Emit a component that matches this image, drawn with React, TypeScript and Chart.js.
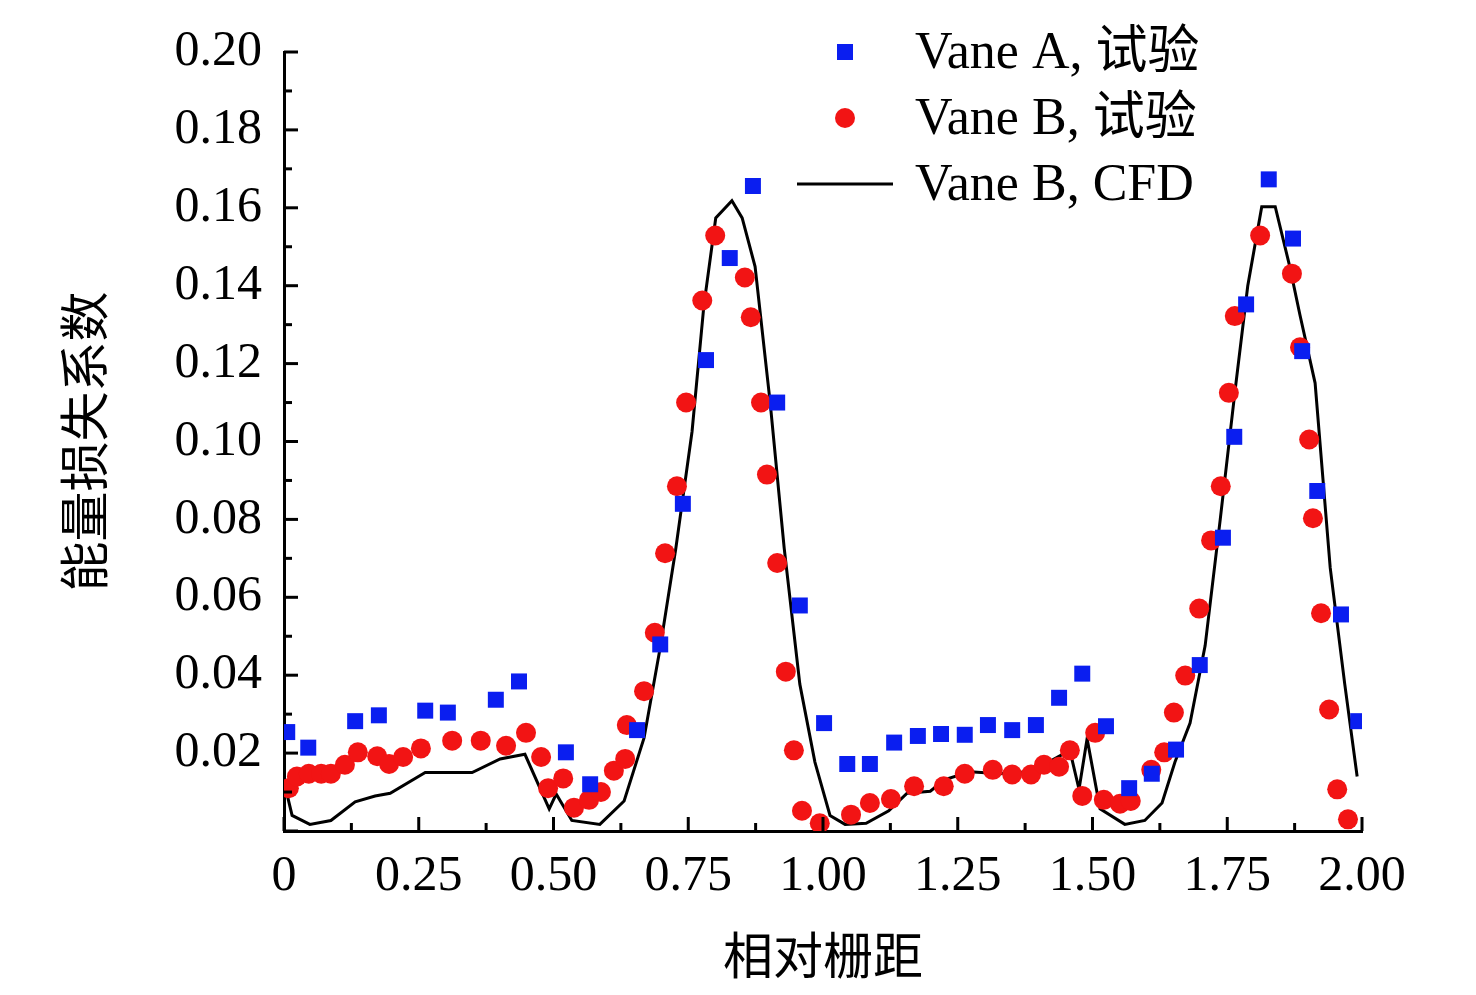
import React, { useEffect, useRef } from "react";
import { Chart, registerables } from "chart.js";
Chart.register(...registerables);

const vaneAX = [0.006,0.045,0.132,0.176,0.262,0.304,0.393,0.436,0.523,0.568,0.655,0.698,0.740,0.783,0.827,0.870,0.915,0.957,1.002,1.045,1.087,1.132,1.176,1.219,1.263,1.306,1.351,1.395,1.438,1.481,1.525,1.568,1.610,1.655,1.699,1.742,1.763,1.785,1.827,1.872,1.889,1.917,1.961,1.993];
const vaneAY = [0.0254,0.0214,0.0282,0.0297,0.0309,0.0304,0.0337,0.0384,0.0202,0.0120,0.0259,0.0479,0.0840,0.1209,0.1471,0.1656,0.1100,0.0579,0.0277,0.0172,0.0172,0.0227,0.0244,0.0249,0.0247,0.0272,0.0259,0.0272,0.0342,0.0404,0.0269,0.0110,0.0147,0.0209,0.0426,0.0753,0.1012,0.1352,0.1673,0.1521,0.1232,0.0873,0.0556,0.0282];
const vaneBX = [0.009,0.024,0.046,0.069,0.087,0.113,0.137,0.173,0.195,0.221,0.254,0.312,0.365,0.412,0.449,0.477,0.490,0.518,0.538,0.566,0.588,0.612,0.633,0.636,0.668,0.688,0.707,0.729,0.746,0.776,0.800,0.855,0.866,0.885,0.896,0.915,0.931,0.946,0.961,0.994,1.052,1.087,1.126,1.169,1.224,1.263,1.315,1.351,1.386,1.410,1.438,1.458,1.481,1.505,1.521,1.551,1.571,1.609,1.633,1.651,1.672,1.698,1.720,1.738,1.753,1.764,1.811,1.870,1.885,1.902,1.909,1.924,1.939,1.954,1.974];
const vaneBY = [0.011,0.014,0.0147,0.0147,0.0147,0.0170,0.0202,0.0192,0.0172,0.0190,0.0212,0.0232,0.0232,0.0219,0.0252,0.0190,0.011,0.0135,0.0060,0.0080,0.0100,0.0155,0.0185,0.0272,0.0359,0.0509,0.0713,0.0885,0.1100,0.1362,0.1529,0.1421,0.1319,0.1100,0.0915,0.0688,0.0409,0.0207,0.0052,0.0020,0.0042,0.0072,0.0082,0.0115,0.0115,0.0147,0.0157,0.0145,0.0145,0.0170,0.0165,0.0207,0.0090,0.0252,0.0080,0.0070,0.0077,0.0157,0.0202,0.0304,0.0399,0.0571,0.0746,0.0885,0.1125,0.1322,0.1529,0.1431,0.1242,0.1005,0.0803,0.0559,0.0312,0.0107,0.0030];
const cfdX = [0.002,0.015,0.048,0.087,0.132,0.169,0.197,0.262,0.349,0.401,0.447,0.492,0.505,0.534,0.586,0.631,0.668,0.698,0.727,0.757,0.779,0.801,0.831,0.850,0.874,0.902,0.928,0.957,0.985,1.013,1.041,1.080,1.122,1.156,1.199,1.226,1.273,1.328,1.384,1.412,1.458,1.475,1.490,1.514,1.560,1.597,1.629,1.653,1.681,1.709,1.737,1.764,1.788,1.814,1.839,1.866,1.885,1.913,1.941,1.968,1.991];
const cfdY = [0.0115,0.0040,0.0017,0.0027,0.0075,0.0090,0.0097,0.0150,0.0150,0.0185,0.0197,0.0057,0.0095,0.0027,0.0017,0.0077,0.0239,0.0471,0.0726,0.1025,0.1349,0.1574,0.1618,0.1574,0.1449,0.1100,0.0726,0.0377,0.0177,0.0040,0.0017,0.0020,0.0052,0.0097,0.0102,0.0132,0.0152,0.0147,0.0152,0.0172,0.0207,0.0107,0.0237,0.0057,0.0017,0.0027,0.0072,0.0177,0.0277,0.0476,0.0800,0.1125,0.1399,0.1603,0.1603,0.1449,0.1324,0.1150,0.0676,0.0377,0.0140];
const legendLabels = ["Vane A, 试验", "Vane B, 试验", "Vane B, CFD"];
const xTitle = "相对栅距";
const yTitle = "能量损失系数";

const BLUE = "#0a1ef0";
const RED = "#f21414";
const FONT = "'Liberation Serif', 'Noto Sans CJK SC', serif";

const pts = (xs: number[], ys: number[]) => xs.map((x, i) => ({ x, y: ys[i] }));

const ticksPlugin = {
  id: "innerTicks",
  afterDraw(chart: any) {
    const { ctx, scales, chartArea } = chart;
    const x = scales.x, y = scales.y;
    ctx.save();
    ctx.strokeStyle = "#000";
    ctx.lineWidth = 3;
    for (let i = 0; i <= 20; i++) {
      const py = y.getPixelForValue(i * 0.01);
      const len = i % 2 === 0 ? 14 : 8;
      ctx.beginPath();
      ctx.moveTo(chartArea.left, py);
      ctx.lineTo(chartArea.left + len, py);
      ctx.stroke();
    }
    for (let i = 0; i <= 16; i++) {
      const px = x.getPixelForValue(i * 0.125);
      const len = i % 2 === 0 ? 14 : 8;
      ctx.beginPath();
      ctx.moveTo(px, chartArea.bottom);
      ctx.lineTo(px, chartArea.bottom - len);
      ctx.stroke();
    }
    ctx.font = `52px ${FONT}`;
    ctx.textBaseline = "middle";
    const rows = [52, 118, 184];
    ctx.fillStyle = BLUE;
    ctx.fillRect(845 - 8, rows[0] - 8, 16, 16);
    ctx.fillStyle = RED;
    ctx.beginPath();
    ctx.arc(845, rows[1], 10, 0, Math.PI * 2);
    ctx.fill();
    ctx.strokeStyle = "#000";
    ctx.beginPath();
    ctx.moveTo(797, rows[2]);
    ctx.lineTo(893, rows[2]);
    ctx.stroke();
    ctx.fillStyle = "#000";
    legendLabels.forEach((t, i) => ctx.fillText(t, 915, rows[i] + 2));
    ctx.restore();
  },
};

export default function App() {
  const ref = useRef<HTMLCanvasElement>(null);
  useEffect(() => {
    const chart = new Chart(ref.current!, {
      type: "scatter",
      data: {
        datasets: [
          { label: legendLabels[0], data: pts(vaneAX, vaneAY), pointStyle: "rect", pointRadius: 11.3, backgroundColor: BLUE, borderWidth: 0 },
          { label: legendLabels[1], data: pts(vaneBX, vaneBY), pointStyle: "circle", pointRadius: 10, backgroundColor: RED, borderWidth: 0 },
          { label: legendLabels[2], data: pts(cfdX, cfdY), showLine: true, pointRadius: 0, borderColor: "#000", borderWidth: 3, tension: 0 } as any,
        ],
      },
      options: {
        animation: false,
        responsive: false,
        layout: { padding: { top: 0, right: 114, left: 0, bottom: 0 } },
        plugins: { legend: { display: false }, tooltip: { enabled: false } },
        scales: {
          x: {
            type: "linear", min: 0, max: 2,
            afterFit: (s: any) => { s.height = 164; },
            grid: { display: false, drawTicks: false },
            border: { display: true, color: "#000", width: 3 },
            ticks: { stepSize: 0.25, padding: 16, color: "#000", font: { family: FONT, size: 50 }, callback: (v: any) => (v === 0 ? "0" : Number(v).toFixed(2)) },
            title: { display: true, text: xTitle, color: "#000", font: { family: FONT, size: 50 }, padding: { top: 14 } },
          },
          y: {
            type: "linear", min: 0, max: 0.2,
            afterFit: (s: any) => { s.width = 284; },
            grid: { display: false, drawTicks: false },
            border: { display: true, color: "#000", width: 3 },
            ticks: { stepSize: 0.02, padding: 22, color: "#000", font: { family: FONT, size: 50 }, callback: (v: any) => (Math.abs(v) < 1e-9 ? "" : Number(v).toFixed(2)) },
            title: { display: true, text: yTitle, color: "#000", font: { family: FONT, size: 50 }, padding: { top: 60, bottom: 0 } },
          },
        },
      },
      plugins: [{
        id: "fixTop",
        afterLayout(c: any) { /* no-op */ },
      }, ticksPlugin],
    });
    return () => chart.destroy();
  }, []);
  return (
    <div style={{ position: "fixed", left: 0, top: 0, width: 1476, height: 995, background: "#fff" }}>
      <canvas ref={ref} width={1476} height={995} style={{ width: 1476, height: 995 }} />
    </div>
  );
}
